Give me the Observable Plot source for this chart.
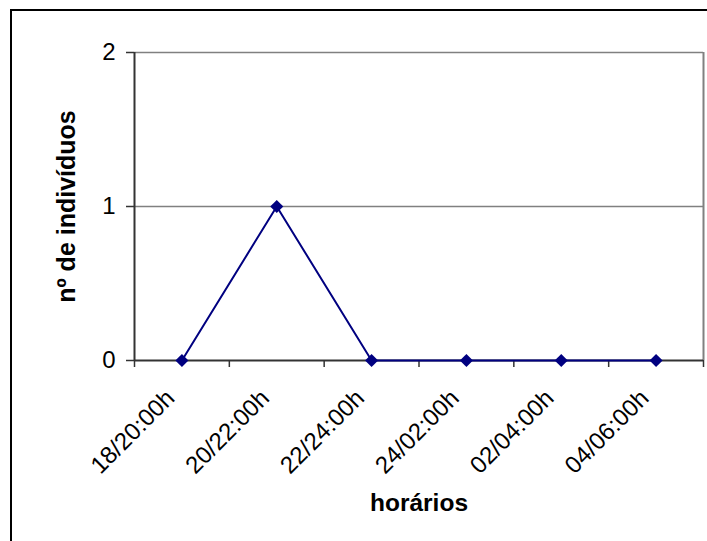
<!DOCTYPE html>
<html>
<head>
<meta charset="utf-8">
<script src="https://cdn.jsdelivr.net/npm/d3@7"></script>
<script src="https://cdn.jsdelivr.net/npm/@observablehq/plot@0.6"></script>
<style>
  html, body { margin: 0; padding: 0; background: #fff; }
  #wrap { position: relative; width: 707px; height: 541px; overflow: hidden; }
  #border { position: absolute; left: 10px; top: 9px; width: 720px; height: 560px; border: 2px solid #000; box-sizing: border-box; pointer-events: none; }
  svg { position: absolute; left: 0; top: 0; font-family: "Liberation Sans", Arial, sans-serif; }
</style>
</head>
<body>
<div id="wrap"><div id="border"></div></div>
<script>
const categories = ["18/20:00h", "20/22:00h", "22/24:00h", "24/02:00h", "02/04:00h", "04/06:00h"];
const values = [0, 1, 0, 0, 0, 0];
const yTicks = [0, 1, 2];
const xTitle = "horários";
const yTitle = "nº de indivíduos";

const data = categories.map((c, i) => ({c, i, v: values[i]}));
const boundaries = d3.range(categories.length + 1);
const navy = "#000080";

const chart = Plot.plot({
  width: 707,
  height: 541,
  marginLeft: 134,
  marginRight: 4,
  marginTop: 52,
  marginBottom: 181,
  style: {fontFamily: "'Liberation Sans', Arial, sans-serif", fontSize: "20px", color: "#000", background: "transparent"},
  x: {type: "linear", domain: [0, categories.length], axis: null},
  y: {domain: [0, 2], axis: null},
  marks: [
    Plot.ruleY([1, 2], {stroke: "#808080", strokeWidth: 1.3}),
    Plot.ruleX([categories.length], {stroke: "#808080", strokeWidth: 2}),
    Plot.ruleY([0], {stroke: "#333", strokeWidth: 2}),
    Plot.ruleX([0], {stroke: "#333", strokeWidth: 2}),
    Plot.ruleY(yTicks, {y: d => d, x1: 0, x2: 0, insetLeft: -8, stroke: "#333", strokeWidth: 1.5}),
    Plot.text(yTicks, {x: 0, y: d => d, text: d => String(d), textAnchor: "end", dx: -19, fontSize: 24, fill: "#000"}),
    Plot.ruleX(boundaries, {x: d => d, y1: 0, y2: 0, insetBottom: -7, stroke: "#333", strokeWidth: 1.5}),
    Plot.text(data, {x: d => d.i + 0.5, frameAnchor: "bottom", text: "c", rotate: -45, textAnchor: "end", dx: -6, dy: 39, fontSize: 24, fill: "#000"}),
    Plot.line(data, {x: d => d.i + 0.5, y: "v", stroke: navy, strokeWidth: 2}),
    Plot.dot(data, {x: d => d.i + 0.5, y: "v", symbol: "diamond2", r: 5.9, fill: navy, stroke: "none"}),
    Plot.text([xTitle], {frameAnchor: "bottom", textAnchor: "middle", dy: 150, fontSize: 24.5, fontWeight: "bold", fill: "#000"}),
    Plot.text([yTitle], {frameAnchor: "left", textAnchor: "middle", rotate: -90, dx: -68, fontSize: 25, fontWeight: "bold", fill: "#000"})
  ]
});
document.getElementById("wrap").insertBefore(chart, document.getElementById("border"));
</script>
</body>
</html>
